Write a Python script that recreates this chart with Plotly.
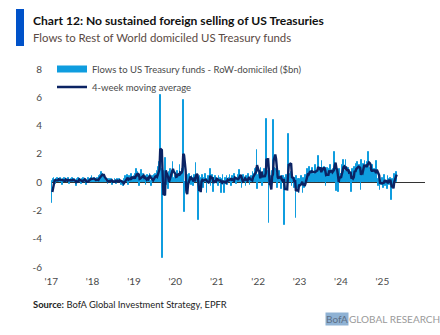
import pandas as pd
import plotly.graph_objects as go

# Weekly flows to RoW-domiciled US Treasury funds ($bn)
start_date = "2017-01-04"
flows_2017 = [-1.5, 0.1, 0.2, 0.3, 0.1, -0.1, 0.2, 0.3, 0.1, 0.2,
              0.0, 0.3, 0.2, 0.1, -0.2, 0.2, 0.3, 0.1, 0.2, 0.0,
              0.1, 0.3, 0.2, -0.1, 0.1, 0.2, 0.3, 0.1, 0.0, 0.2,
              0.1, -0.3, 0.2, 0.1, 0.3, 0.2, 0.0, 0.1, -0.1, 0.2,
              0.3, 0.1, 0.2, 0.0, -0.2, 0.1, 0.2, 0.3, 0.1, 0.2,
              0.3, 0.4]
flows_2018 = [0.2, 0.1, 0.3, 0.2, 0.0, 0.2, 0.3, 0.1, 0.4, 0.5,
              0.3, 0.7, 0.6, 0.4, 0.3, 0.2, 0.1, 0.0, 0.2, -0.1,
              0.1, 0.2, 0.0, 0.1, 0.2, -0.2, 0.1, 0.0, 0.2, 0.1,
              -0.1, 0.2, 0.1, 0.0, 0.2, 0.1, -0.2, 0.0, 0.1, -0.3,
              0.2, 0.4, 0.1, 0.3, 0.5, -0.2, 0.4, 0.3, 0.2, 0.6,
              0.1, 0.3]
flows_2019 = [0.4, 0.2, 0.6, 0.9, 0.3, 0.7, 0.2, -0.3, 0.4, 0.85,
              0.3, 0.1, 0.6, 0.2, 0.4, -0.2, 0.3, 0.5, 0.2, 0.4,
              0.6, 0.1, -0.3, 0.4, 0.3, 0.5, 0.2, 0.6, 0.4, 0.3,
              0.8, 1.1, 1.4, 6.15, 0.6, 0.9, -5.37, 0.3, 0.8, 0.5,
              1.7, -0.2, 0.3, -0.5, 0.4, 0.7, 0.9, 0.6, 0.8, 1.43,
              0.2, 0.3]
flows_2020 = [0.4, 0.6, 0.3, 0.8, 0.5, 0.2, 1.2, 0.6, 0.7, 0.9,
              5.84, 0.2, -2.1, -0.6, -0.3, -0.4, 0.5, 0.3, 0.6, 0.2,
              -0.2, 0.4, 0.3, -0.3, 0.5, 0.2, 1.34, 0.3, 0.2, -2.7,
              0.1, 0.4, -0.6, 0.3, 0.5, 0.2, -0.4, 0.3, 0.6, 0.1,
              -0.8, 0.2, 0.4, 0.3, 0.92, -0.3, 0.2, 0.5, -0.7, 0.3,
              0.1, 0.4, 0.2]
flows_2021 = [0.2, -0.3, 0.4, 0.1, 0.3, -0.8, 0.2, 0.5, 0.1, -0.8,
              0.3, 0.2, 0.4, -0.2, 0.1, 0.3, 0.5, 0.2, -0.3, 0.4,
              0.1, 0.2, 0.6, 0.3, -0.1, 0.2, 0.4, 0.5, 0.85, 0.3,
              0.1, -0.4, 0.2, 0.5, 0.3, 0.1, -0.3, 0.4, 0.2, 0.6,
              0.3, -0.2, 0.1, 0.4, 0.2, 0.7, 0.5, 0.6, 0.9, 1.0,
              2.3, -0.5]
flows_2022 = [0.5, 0.8, 0.3, 1.0, 0.6, -0.3, 0.4, 0.9, 0.7, 0.5,
              4.5, 0.6, 0.8, -2.87, 0.9, 0.4, -0.5, 0.8, 1.5, 4.4,
              1.0, 0.9, 0.3, 0.6, -0.4, 0.5, 0.8, 0.2, 0.3, -0.5,
              0.4, 0.4, 0.3, -3.04, 0.3, 0.5, 0.2, 0.8, 3.4, 0.6,
              0.4, 0.7, -0.3, 0.5, 0.2, -0.4, 0.3, -2.57, 0.4, -0.5,
              0.2, -0.8]
flows_2023 = [0.2, -0.3, 0.4, -0.2, -0.8, 0.3, -0.4, 0.5, 0.2, 0.6,
              0.9, 0.4, 1.1, 0.7, 0.5, 0.8, 1.0, 0.6, 0.3, 0.9,
              1.2, 0.7, 0.5, 1.84, 0.8, 0.6, 1.0, 0.4, 1.5, 0.9,
              0.7, 1.1, 0.5, -0.3, 0.8, 1.0, 0.6, 0.9, 0.4, 1.2,
              0.7, 0.5, 0.9, 1.3, 2.1, 1.2, -0.6, 0.8, 0.5, -0.7,
              0.9, 0.6]
flows_2024 = [0.6, 0.9, 1.2, 1.55, 0.8, 0.5, 1.55, 0.7, 0.4, 1.0,
              0.6, 0.8, 0.3, -0.7, 0.9, 0.5, 0.7, 1.1, 0.6, 1.3,
              0.9, 1.4, 0.8, 1.2, 0.6, -0.56, 1.55, 1.0, 1.3, 0.8,
              1.5, 1.1, 0.9, 1.4, 2.1, 1.2, 0.7, 1.0, 0.5, 0.8,
              1.2, 0.6, 0.9, 0.4, 0.7, 1.5, 0.2, -0.3, 0.5, -0.56,
              0.1, -0.2]
flows_2025 = [0.3, -0.4, 0.2, 0.5, -0.3, 0.1, -0.5, 0.4, 0.2, -0.2,
              0.3, -1.27, -0.3, 0.2, -0.4, 0.6, 0.5, 0.3, 0.7]

y_ticks = [-6, -4, -2, 0, 2, 4, 6, 8]
x_tick_years = list(range(2017, 2026))
x_tick_labels = ["'" + str(y)[2:] for y in x_tick_years]

flows = (flows_2017 + flows_2018 + flows_2019 + flows_2020 + flows_2021 +
         flows_2022 + flows_2023 + flows_2024 + flows_2025)
dates = pd.date_range(start=start_date, periods=len(flows), freq="7D")
ma4 = pd.Series(flows).rolling(4, min_periods=2).mean()

BAR_C = "#0f9ddf"
MA_C = "#0b2363"
TXT = "#4a4a4a"
FONT = "Lato"

fig = go.Figure()
fig.add_trace(go.Bar(x=dates, y=flows, marker=dict(color=BAR_C, line=dict(color=BAR_C, width=1.0)),
                     showlegend=False, hoverinfo="skip"))
fig.add_trace(go.Scatter(x=dates, y=ma4, mode="lines", line=dict(color=MA_C, width=2.4),
                         showlegend=False))
# legend proxies
fig.add_trace(go.Scatter(x=[None], y=[None], mode="lines", line=dict(color=BAR_C, width=7),
                         name="Flows to US Treasury funds - RoW-domiciled ($bn)", legend="legend"))
fig.add_trace(go.Scatter(x=[None], y=[None], mode="lines", line=dict(color=MA_C, width=2.4),
                         name="4-week moving average", legend="legend2"))

L, R, T, B = 51, 425, 69, 267
W, H = 440, 335
def px(x):
    return (x - L) / (R - L)
def py(y):
    return (B - y) / (B - T)

leg_common = dict(xanchor="left", yanchor="middle", bgcolor="rgba(0,0,0,0)",
                  font=dict(size=9.5, color=TXT), itemwidth=30, borderwidth=0)

fig.update_layout(
    width=W, height=H,
    margin=dict(l=L, r=W - R, t=T, b=H - B),
    paper_bgcolor="white", plot_bgcolor="white",
    bargap=0,
    font=dict(family=FONT, size=10, color=TXT),
    showlegend=True,
    legend=dict(x=px(52), y=py(69), **leg_common),
    legend2=dict(x=px(52), y=py(87), **leg_common),
    xaxis=dict(range=["2016-12-30", "2026-01-12"], showgrid=False, showline=False, zeroline=False,
               tickvals=[f"{y}-01-01" for y in x_tick_years], ticktext=x_tick_labels,
               ticks="outside", ticklen=5, tickcolor="rgba(0,0,0,0)",
               tickfont=dict(size=10, color=TXT)),
    yaxis=dict(range=[-6, 8], showgrid=False, showline=False, zeroline=True,
               zerolinecolor="#333333", zerolinewidth=1,
               tickvals=y_ticks, ticktext=[str(v) for v in y_ticks],
               ticks="outside", ticklen=6, tickcolor="rgba(0,0,0,0)",
               tickfont=dict(size=10, color=TXT)),
    shapes=[dict(type="rect", xref="paper", yref="paper",
                 x0=px(16), x1=px(24), y0=py(46), y1=py(9),
                 fillcolor="#0052c9", line=dict(width=0))],
    annotations=[
        dict(text="<b>Chart 12: No sustained foreign selling of US Treasuries</b>",
             xref="paper", yref="paper", x=px(31), y=py(20.5), xanchor="left", yanchor="middle",
             showarrow=False, font=dict(family=FONT, size=12.1, color="#111111")),
        dict(text="Flows to Rest of World domiciled US Treasury funds",
             xref="paper", yref="paper", x=px(31), y=py(37.5), xanchor="left", yanchor="middle",
             showarrow=False, font=dict(family=FONT, size=11.4, color="#5a4a44")),
        dict(text="<b>Source:</b> BofA Global Investment Strategy, EPFR",
             xref="paper", yref="paper", x=px(31), y=py(304.5), xanchor="left", yanchor="middle",
             showarrow=False, font=dict(family=FONT, size=9.4, color="#222222")),
        dict(text="BofA", xref="paper", yref="paper", x=px(325), y=py(318.5),
             xanchor="left", yanchor="middle", showarrow=False, bgcolor="#8fb2d4",
             borderpad=0, font=dict(family=FONT, size=10, color="#5d6f85")),
        dict(text="GLOBAL RESEARCH", xref="paper", yref="paper", x=px(347), y=py(318.5),
             xanchor="left", yanchor="middle", showarrow=False,
             font=dict(family=FONT, size=10, color="#9a9a9a")),
    ],
)

fig.write_html("out.html")
